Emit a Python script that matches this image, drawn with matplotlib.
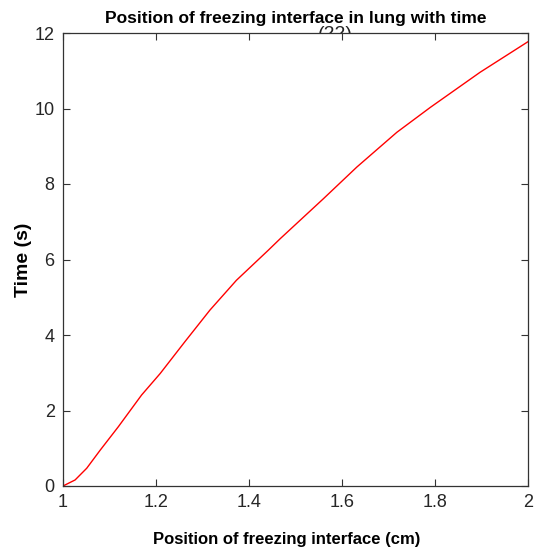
import matplotlib
matplotlib.use("Agg")
import matplotlib.pyplot as plt

# Data
position_cm = [1.0, 1.026, 1.051, 1.08, 1.119, 1.169, 1.209, 1.262, 1.316, 1.373,
               1.441, 1.467, 1.56, 1.632, 1.718, 1.79, 1.897, 2.0]
time_s = [0.0, 0.16, 0.47, 0.95, 1.57, 2.41, 2.98, 3.82, 4.66, 5.45,
          6.24, 6.55, 7.61, 8.45, 9.37, 10.03, 10.96, 11.77]
x_ticks = [1, 1.2, 1.4, 1.6, 1.8, 2]
x_tick_labels = ["1", "1.2", "1.4", "1.6", "1.8", "2"]
y_ticks = [0, 2, 4, 6, 8, 10, 12]
y_tick_labels = ["0", "2", "4", "6", "8", "10", "12"]

plt.rcParams['font.family'] = ['Liberation Sans', 'DejaVu Sans']

fig = plt.figure(figsize=(5.34, 5.53), dpi=100)
ax = fig.add_axes([63/534, 67/553, 465/534, 453/553])

# partially hidden artefact text under the title (covered by the axes)
fig.text(335/534, 1 - 26/553, "(22)", ha="center", va="top",
         fontsize=14, color="#222222", zorder=-1)

ax.plot(position_cm, time_s, color="red", linewidth=1.0)
ax.set_xlim(1, 2)
ax.set_ylim(0, 12)
ax.set_xticks(x_ticks)
ax.set_xticklabels(x_tick_labels)
ax.set_yticks(y_ticks)
ax.set_yticklabels(y_tick_labels)
ax.tick_params(direction="in", length=5, width=0.8, top=True, right=True,
               labelsize=13, colors="#333333", labelcolor="#262626", pad=6)
for s in ax.spines.values():
    s.set_color("#333333")
    s.set_linewidth(0.9)

ax.set_title("Position of freezing interface in lung with time",
             fontsize=12.5, fontweight="bold", pad=7)
ax.set_xlabel("Position of freezing interface (cm)", fontsize=12,
              fontweight="bold", va="top")
ax.xaxis.set_label_coords(0.481, -0.102)
ax.set_ylabel("Time (s)", fontsize=14, fontweight="bold")
ax.yaxis.set_label_coords(-0.067, 0.5)

fig.savefig("out.png", dpi=100)
